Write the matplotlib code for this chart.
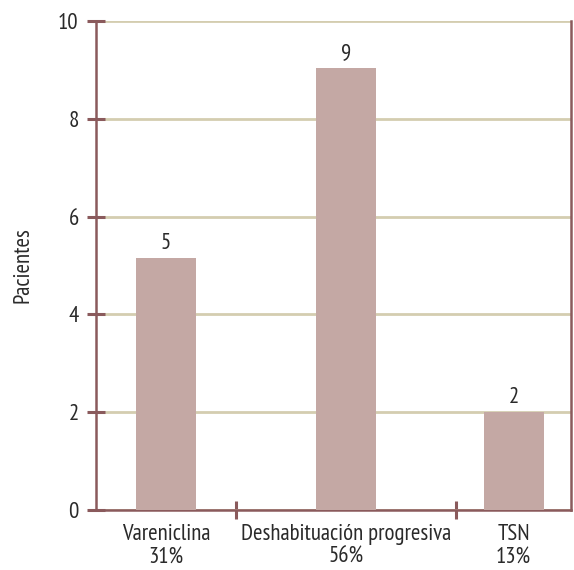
import matplotlib
matplotlib.use('Agg')
import matplotlib.pyplot as plt

# datos
categorias = ['Vareniclina', 'Deshabituación progresiva', 'TSN']
porcentajes = ['31%', '56%', '13%']
pacientes = [5.15, 9.03, 2.0]
etiquetas = ['5', '9', '2']

plt.rcParams['font.family'] = ['PT Sans Narrow', 'DejaVu Sans']

color_eje = '#8a5a5c'
color_barra = '#c4a8a4'
color_rejilla = '#d4cdb0'
color_texto = '#2a2a2a'
tam = 16.5

# posiciones (anchos de categoria desiguales como en el original)
centros = [0.70, 2.50, 4.175]
limites = [1.40, 3.60]

fig = plt.figure(figsize=(5.74, 5.70), dpi=100)
ax = fig.add_axes([96 / 574, 60 / 570, 475 / 574, 489 / 570])

ax.bar(centros, pacientes, width=0.6, color=color_barra, zorder=3)
for x, h, t in zip(centros, pacientes, etiquetas):
    ax.text(x, h + 0.08, t, ha='center', va='bottom', fontsize=tam, color=color_texto)

ax.set_xlim(0, 4.75)
ax.set_ylim(0, 10)
ax.set_yticks([0, 2, 4, 6, 8, 10])
ax.grid(axis='y', color=color_rejilla, linewidth=2, zorder=0)

ax.set_xticks(limites)
ax.set_xticklabels([])
ax.set_xticks(centros, minor=True)
ax.set_xticklabels([c + '\n' + p for c, p in zip(categorias, porcentajes)], minor=True,
                   linespacing=1.1)

ax.tick_params(axis='y', direction='inout', length=13, width=2.2, color=color_eje,
               labelsize=tam, labelcolor=color_texto, pad=6)
ax.tick_params(axis='x', which='major', direction='inout', length=13, width=2.2, color=color_eje)
ax.tick_params(axis='x', which='minor', length=0, labelsize=tam, labelcolor=color_texto, pad=10)

for lado in ['left', 'bottom', 'right']:
    ax.spines[lado].set_color(color_eje)
    ax.spines[lado].set_linewidth(1.8)
ax.spines['top'].set_visible(False)

ax.set_ylabel('Pacientes', fontsize=tam, color=color_texto, labelpad=18)

fig.savefig('out.png', dpi=100)
